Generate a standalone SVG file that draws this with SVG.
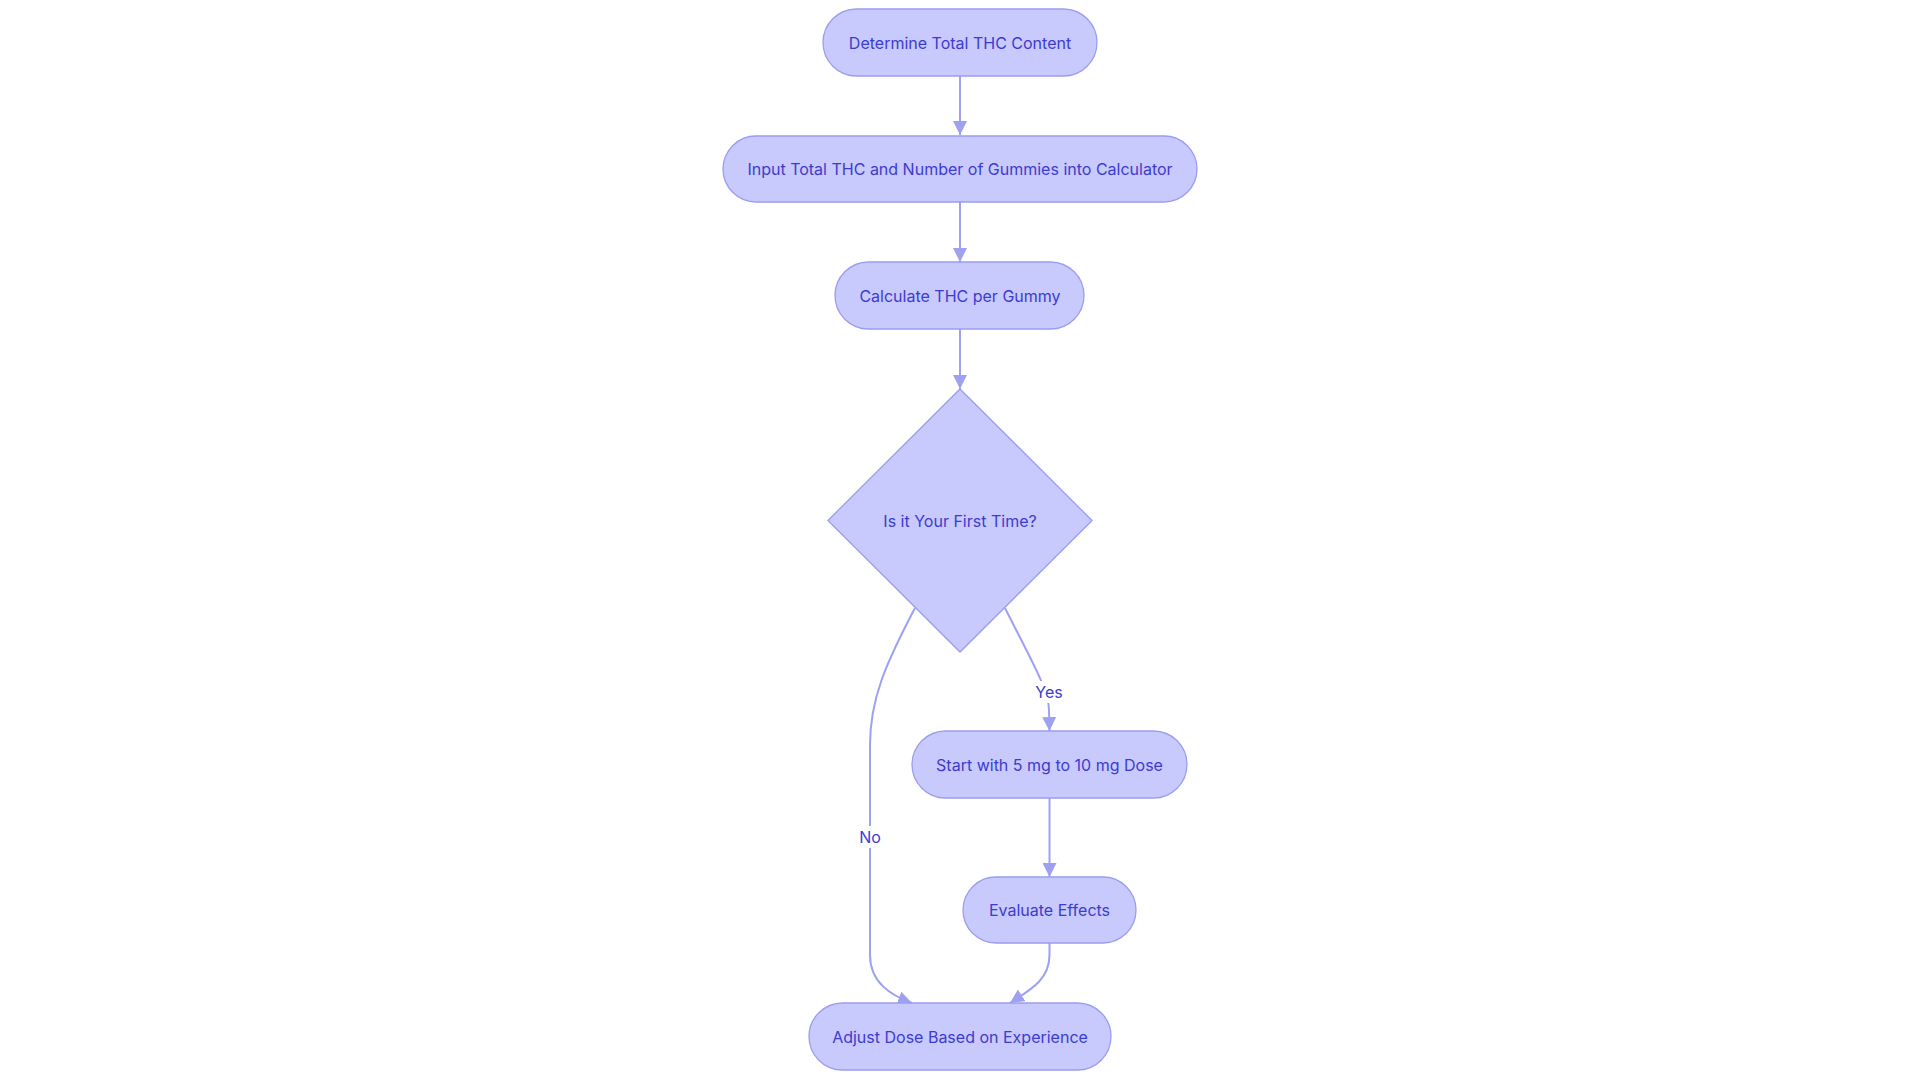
<svg xmlns="http://www.w3.org/2000/svg" width="1920" height="1083" viewBox="0 0 1920 1083">
<style>
.node rect, .node polygon { fill: #c8c9fc; stroke: #9b9df0; stroke-width: 1.3; }
.node text, .lbl text { font-family: Inter, "Noto Sans", sans-serif; font-size: 16px; fill: #3c3cd0; text-anchor: middle; dominant-baseline: central; }
.edge { fill: none; stroke: #9ea0f2; stroke-width: 2; }
.lbl rect { fill: #ffffff; }
</style>
<defs>
<marker id="arr" viewBox="0 0 10 10" refX="10" refY="5" markerUnits="userSpaceOnUse" markerWidth="14" markerHeight="14" orient="auto">
<path d="M0,0 L10,5 L0,10 z" fill="#9ea0f2"/>
</marker>
</defs>
<rect width="1920" height="1083" fill="#ffffff"/>
<g id="connectors">
<path class="edge" d="M960,76 L960,135" marker-end="url(#arr)"/>
<path class="edge" d="M960,202 L960,262" marker-end="url(#arr)"/>
<path class="edge" d="M960,329 L960,389" marker-end="url(#arr)"/>
<path class="edge" d="M1005,608 C1030,658 1049,690 1049,710 L1049.5,731" marker-end="url(#arr)"/>
<path class="edge" d="M915,608 C885,665 870,700 870,745 L870,955 C870,982 890,995 912,1003" marker-end="url(#arr)"/>
<path class="edge" d="M1049.5,798 L1049.5,877" marker-end="url(#arr)"/>
<path class="edge" d="M1049.5,943 L1049.5,955 C1049.5,980 1030,990 1010,1003" marker-end="url(#arr)"/>
<g class="lbl" id="label-yes"><rect x="1034" y="681" width="31" height="22"/><text x="1049" y="692">Yes</text></g>
<g class="lbl" id="label-no"><rect x="858" y="826" width="24" height="22"/><text x="870" y="837">No</text></g>
</g>
<g id="n1" class="node"><rect x="823" y="9" width="274" height="67" rx="33.5"/><text x="960" y="42.5">Determine Total THC Content</text></g>
<g id="n2" class="node"><rect x="723" y="136" width="474" height="66" rx="33"/><text x="960" y="169">Input Total THC and Number of Gummies into Calculator</text></g>
<g id="n3" class="node"><rect x="835" y="262" width="249" height="67" rx="33.5"/><text x="960" y="295.5">Calculate THC per Gummy</text></g>
<g id="n4" class="node"><polygon points="960,389 1092,520.5 960,652 828,520.5"/><text x="960" y="520.5">Is it Your First Time?</text></g>
<g id="n5" class="node"><rect x="912" y="731" width="275" height="67" rx="33.5"/><text x="1049.5" y="764.5">Start with 5 mg to 10 mg Dose</text></g>
<g id="n6" class="node"><rect x="963" y="877" width="173" height="66" rx="33"/><text x="1049.5" y="910">Evaluate Effects</text></g>
<g id="n7" class="node"><rect x="809" y="1003" width="302" height="67" rx="33.5"/><text x="960" y="1036.5">Adjust Dose Based on Experience</text></g>
</svg>
